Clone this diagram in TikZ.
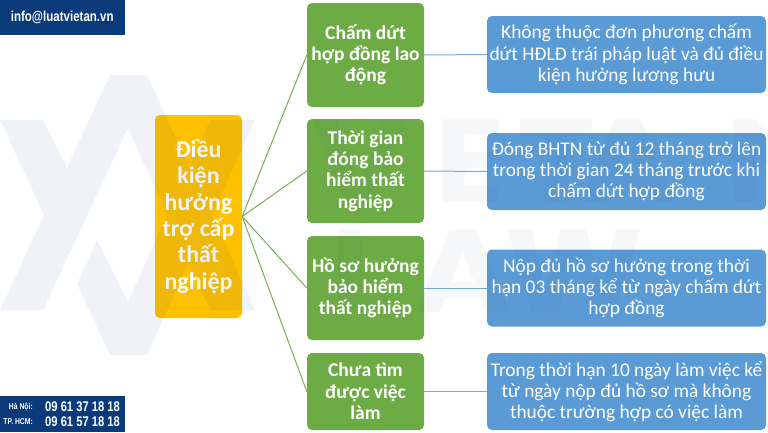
\documentclass[tikz,border=0pt]{standalone}
\usepackage{fontspec}
\setmainfont{Carlito}
\newfontfamily\contactfont[FakeStretch=0.8]{Liberation Sans}
\newfontfamily\markfont[FakeStretch=1.12]{Poppins}
\usetikzlibrary{positioning}
\definecolor{navybox}{HTML}{0A3A7A}
\definecolor{goldbox}{HTML}{FFC000}
\definecolor{greenbox}{HTML}{6DAB45}
\definecolor{bluebox}{HTML}{5B9BD5}
\definecolor{markshade}{HTML}{1A4A7A}
\tikzset{
    topicbox/.style={fill=goldbox, rounded corners=5pt, text=white, align=center, font=\bfseries\fontsize{24}{26.3}\selectfont, minimum width=87pt, minimum height=203pt, inner sep=0pt},
    groupbox/.style={fill=greenbox, rounded corners=5pt, text=white, align=center, font=\bfseries\fontsize{19.5}{21.3}\selectfont, minimum width=117pt, inner sep=0pt, execute at begin node={\rule{0pt}{17pt}}},
    detailbox/.style={fill=bluebox, rounded corners=5pt, text=white, align=center, font=\fontsize{19.4}{21.3}\selectfont, minimum width=279pt, minimum height=77pt, inner sep=0pt, execute at begin node={\rule{0pt}{17pt}}},
    greenlink/.style={draw=greenbox, line width=0.9pt},
    bluelink/.style={draw=bluebox!85!white, line width=1pt},
    contactbox/.style={fill=navybox, text=white, inner sep=0pt},
    contactname/.style={text=white, inner sep=0pt, anchor=east, font=\contactfont\bfseries\fontsize{8.5}{10}\selectfont},
    contactnumber/.style={text=white, inner sep=0pt, anchor=west, font=\contactfont\bfseries\fontsize{14}{16}\selectfont},
    markpart/.style={fill=markshade, fill opacity=0.065, draw=none},
    markletter/.style={text=markshade, text opacity=0.04, inner sep=0pt, font=\markfont\bfseries\fontsize{118}{118}\selectfont}
}
\begin{document}
\begin{tikzpicture}[x=1pt, y=-1pt]
    \useasboundingbox (0,0) rectangle (768,432);
    \fill[white] (0,0) rectangle (768,432);

    % Contact boxes
    \node[contactbox, minimum width=124.5pt, minimum height=34.5pt, font=\contactfont\bfseries\fontsize{14.4}{16}\selectfont] (mail) at (62.25,17.25) {info@luatvietan.vn};
    \node[contactbox, minimum width=124.5pt, minimum height=36pt] (phone) at (62.25,414) {};
    \node[contactname] (hanoi) at (33,407) {Hà Nội:};
    \node[contactname] (hcm) at (33,422) {TP. HCM:};
    \node[contactnumber] (hanoinum) at (45,407) {09 61 37 18 18};
    \node[contactnumber] (hcmnum) at (45,422) {09 61 57 18 18};

    % Main boxes
    \node[topicbox] (topic) at (198.5,216.5) {Điều\\kiện\\hưởng\\trợ cấp\\thất\\nghiệp};

    \node[groupbox, minimum height=104pt] (stop) at (365.5,55) {Chấm dứt\\hợp đồng lao\\động};
    \node[groupbox, minimum height=104pt] (time) at (365.5,171) {Thời gian\\đóng bảo\\hiểm thất\\nghiệp};
    \node[groupbox, minimum height=104pt] (file) at (365.5,288) {Hồ sơ hưởng\\bảo hiểm\\thất nghiệp};
    \node[groupbox, minimum height=77pt] (job) at (365.5,391.5) {Chưa tìm\\được việc\\làm};

    \node[detailbox] (stopinfo) at (626.5,54.5) {Không thuộc đơn phương chấm\\dứt HĐLĐ trái pháp luật và đủ điều\\kiện hưởng lương hưu};
    \node[detailbox] (timeinfo) at (626.5,171.5) {Đóng BHTN từ đủ 12 tháng trở lên\\trong thời gian 24 tháng trước khi\\chấm dứt hợp đồng};
    \node[detailbox] (fileinfo) at (626.5,288) {Nộp đủ hồ sơ hưởng trong thời\\hạn 03 tháng kể từ ngày chấm dứt\\hợp đồng};
    \node[detailbox] (jobinfo) at (626.5,391.5) {Trong thời hạn 10 ngày làm việc kể\\từ ngày nộp đủ hồ sơ mà không\\thuộc trường hợp có việc làm};

    % Connectors
    \foreach \g/\d in {stop/stopinfo, time/timeinfo, file/fileinfo, job/jobinfo} {
        \draw[greenlink] (topic.east) -- (\g.west);
        \draw[bluelink] (\g.east) -- (\d.west);
    }

    % Watermark on top of everything
    \fill[markpart] (0,120) -- (43,120) -- (67,168) -- (110,75) -- (147,75) -- (255,310) -- (210,310) -- (128,128) -- (43,310) -- (0,310) -- (44,215) -- cycle
        (97,240) -- (128,302) -- (210,120) -- (255,120) -- (212,215) -- (255,310) -- (210,310) -- (189,262) -- (147,355) -- (110,355) -- (77,284) -- cycle;
    \foreach \letter/\xpos in {V/360, E/470, T/557, A/628, N/775} {
        \node[markletter] (mark\letter) at (\xpos,161) {\letter};
    }
    \foreach \letter/\xpos in {L/362, A/463, W/574} {
        \node[markletter] (law\letter) at (\xpos,271) {\letter};
    }
\end{tikzpicture}
\end{document}
